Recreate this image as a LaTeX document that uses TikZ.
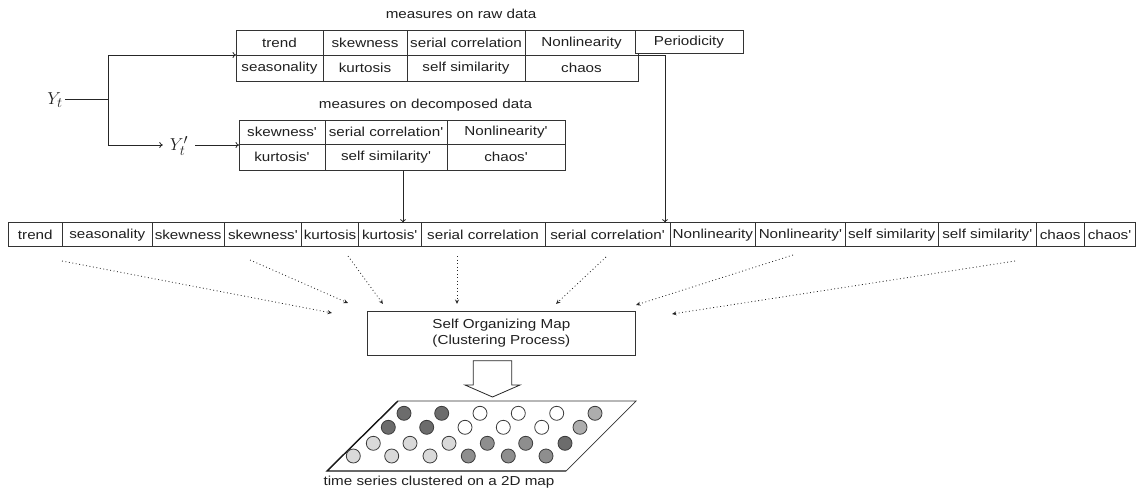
\documentclass[tikz,border=0pt]{standalone}
\usepackage{fontspec}
\setmainfont{Liberation Sans}[FakeStretch=1.17,Ligatures=TeXOff]
\usetikzlibrary{arrows.meta}
\definecolor{cD}{HTML}{6C6C6C}
\definecolor{cM}{HTML}{8E8E8E}
\definecolor{cL}{HTML}{D9D9D9}
\definecolor{cLL}{HTML}{ADADAD}
\definecolor{cO}{HTML}{3C3C3C}
\newcommand\tabcell[7][]{\node[cell,#1,minimum width={(#4)-(#3)},minimum height={(#6)-(#5)}] (#2) at ({((#3)+(#4))/2},{((#5)+(#6))/2}) {#7};}
\begin{document}
\begin{tikzpicture}[x=1pt,y=-1pt,
  every node/.style={font=\fontsize{13}{15.5}\selectfont, text=black!88},
  cell/.style={draw=black!80, line width=0.8pt, inner sep=0pt, outer sep=0pt},
  conn/.style={draw=black!85, line width=0.8pt},
  sarrow/.style={conn, -{To[length=3.5pt,width=6pt]}},
  darrow/.style={draw=black!85, line width=0.8pt, dash pattern=on 0.9pt off 2.6pt, -{Stealth[open,length=4.5pt,width=4pt]}},
  mathlbl/.style={font=\fontsize{19}{20}\selectfont, inner ysep=0pt}
]
\useasboundingbox (0,0) rectangle (1138,500);

% labels
\node (rawlbl) at (461,14) {measures on raw data};
\node (declbl) at (425.5,105) {measures on decomposed data};

% top table (raw data)
\tabcell{trend}{236}{323}{30.5}{55}{trend}
\tabcell{skew}{323}{407}{30.5}{55}{skewness}
\tabcell{serc}{407}{525}{30.5}{55}{serial correlation}
\tabcell{nonl}{525}{638}{30.5}{55}{Nonlinearity}
\tabcell{seas}{236}{323}{55}{81.5}{seasonality}
\tabcell{kurt}{323}{407}{55}{81.5}{kurtosis}
\tabcell{selfs}{407}{525}{55}{81.5}{self similarity}
\tabcell{chaos}{525}{638}{55}{81.5}{chaos}
\tabcell[fill=white]{period}{635}{743}{30.5}{53.3}{Periodicity}

% middle table (decomposed data)
\tabcell{dskew}{239}{325}{120}{144}{skewness'}
\tabcell{dserc}{325}{447}{120}{144}{serial correlation'}
\tabcell{dnonl}{447}{565}{120}{144}{Nonlinearity'}
\tabcell{dkurt}{239}{325}{144}{170.7}{kurtosis'}
\tabcell{dselfs}{325}{447}{144}{170.7}{self similarity'}
\tabcell{dchaos}{447}{565}{144}{170.7}{chaos'}

% long row
\tabcell{r1}{8.3}{62.3}{222.7}{246.7}{trend}
\tabcell{r2}{62.3}{152.3}{222.7}{246.7}{seasonality}
\tabcell{r3}{152.3}{224}{222.7}{246.7}{skewness}
\tabcell{r4}{224}{301.8}{222.7}{246.7}{skewness'}
\tabcell{r5}{301.8}{358.3}{222.7}{246.7}{kurtosis}
\tabcell{r6}{358.3}{421}{222.7}{246.7}{kurtosis'}
\tabcell{r7}{421}{545}{222.7}{246.7}{serial correlation}
\tabcell{r8}{545}{670}{222.7}{246.7}{serial correlation'}
\tabcell{r9}{670}{755.7}{222.7}{246.7}{Nonlinearity}
\tabcell{r10}{755.7}{845}{222.7}{246.7}{Nonlinearity'}
\tabcell{r11}{845}{938.3}{222.7}{246.7}{self similarity}
\tabcell{r12}{938.3}{1036.3}{222.7}{246.7}{self similarity'}
\tabcell{r13}{1036.3}{1084}{222.7}{246.7}{chaos}
\tabcell{r14}{1084}{1135}{222.7}{246.7}{chaos'}

% Y_t and Y'_t
\node[mathlbl, inner xsep=2pt] (yt) at (55,100) {$Y_t$};
\node[mathlbl, inner xsep=7pt] (ytp) at (179,146) {$Y'_t$};
\coordinate (br) at (108,99.3);
\coordinate (brt) at (108,55);
\coordinate (brb) at (108,145);
\draw[conn] (yt.east |- br) -- (br);
\draw[sarrow] (br) -- (brt) -- (trend.west |- brt);
\draw[sarrow] (br) -- (brb) -- (ytp.west |- brb);
\draw[sarrow] (ytp.east |- brb) -- (dskew.west |- brb);

% to the long row
\coordinate (pc) at (665,55);
\draw[sarrow] (chaos.north east) -- (pc) -- (pc |- r8.north);
\coordinate (dc) at (403,170.7);
\draw[sarrow] (dc) -- (dc |- r6.north);

% SOM box
\node[cell, inner sep=0pt, minimum width=267.3pt, minimum height=43.3pt, align=center] (som) at (501.35,333.35) {Self Organizing Map\\(Clustering Process)};

% dotted arrows
\coordinate (s1) at (62,261);   \coordinate (e1) at (332,313);
\coordinate (s2) at (250,260);  \coordinate (e2) at (348,303);
\coordinate (s3) at (348,256);  \coordinate (e3) at (383,304);
\coordinate (s4) at (457,256);  \coordinate (e4) at (457,304);
\coordinate (s5) at (606,257);  \coordinate (e5) at (556,304);
\coordinate (s6) at (793,255);  \coordinate (e6) at (636,305);
\coordinate (s7) at (1015,261); \coordinate (e7) at (672,314);
\foreach \i in {1,...,7} { \draw[darrow] (s\i) -- (e\i); }

% big hollow arrow
\draw[line width=0.8pt, draw=black!85, fill=white] (473.3,360.7) -- (511.7,360.7) -- (511.7,385) -- (520,385) -- (492.5,397) -- (465,385) -- (473.3,385) -- cycle;

% 2D map
\draw[line width=0.7pt, draw=black!80] (327,471) -- (398,401) -- (636,401) -- (566,471);
\draw[line width=1.4pt, draw=black!90] (398,401) -- (327,471) -- (566,471);

\foreach \x/\y/\c in {
  404/413.3/cD, 441.7/413.3/cD, 480/413.3/white, 518.3/413.3/white, 556.7/413.3/white, 595/413.3/cLL,
  388.3/427.3/cD, 426.7/427.3/cD, 465/427.3/white, 503.3/427.3/white, 541.7/427.3/white, 580/427.3/cLL,
  373.3/443.3/cL, 410/443.3/cL, 449/443.3/cL, 487.3/443.3/cM, 525.7/443.3/cM, 565/443.3/cD,
  353.3/456/cL, 391.7/456/cL, 430/456/cL, 468.3/456/cM, 508.3/456/cM, 546/456/cM}
  { \filldraw[fill=\c, draw=cO, line width=0.8pt] (\x,\y) circle (7pt); }

\node (caption) at (439,482) {time series clustered on a 2D map};
\end{tikzpicture}
\end{document}
